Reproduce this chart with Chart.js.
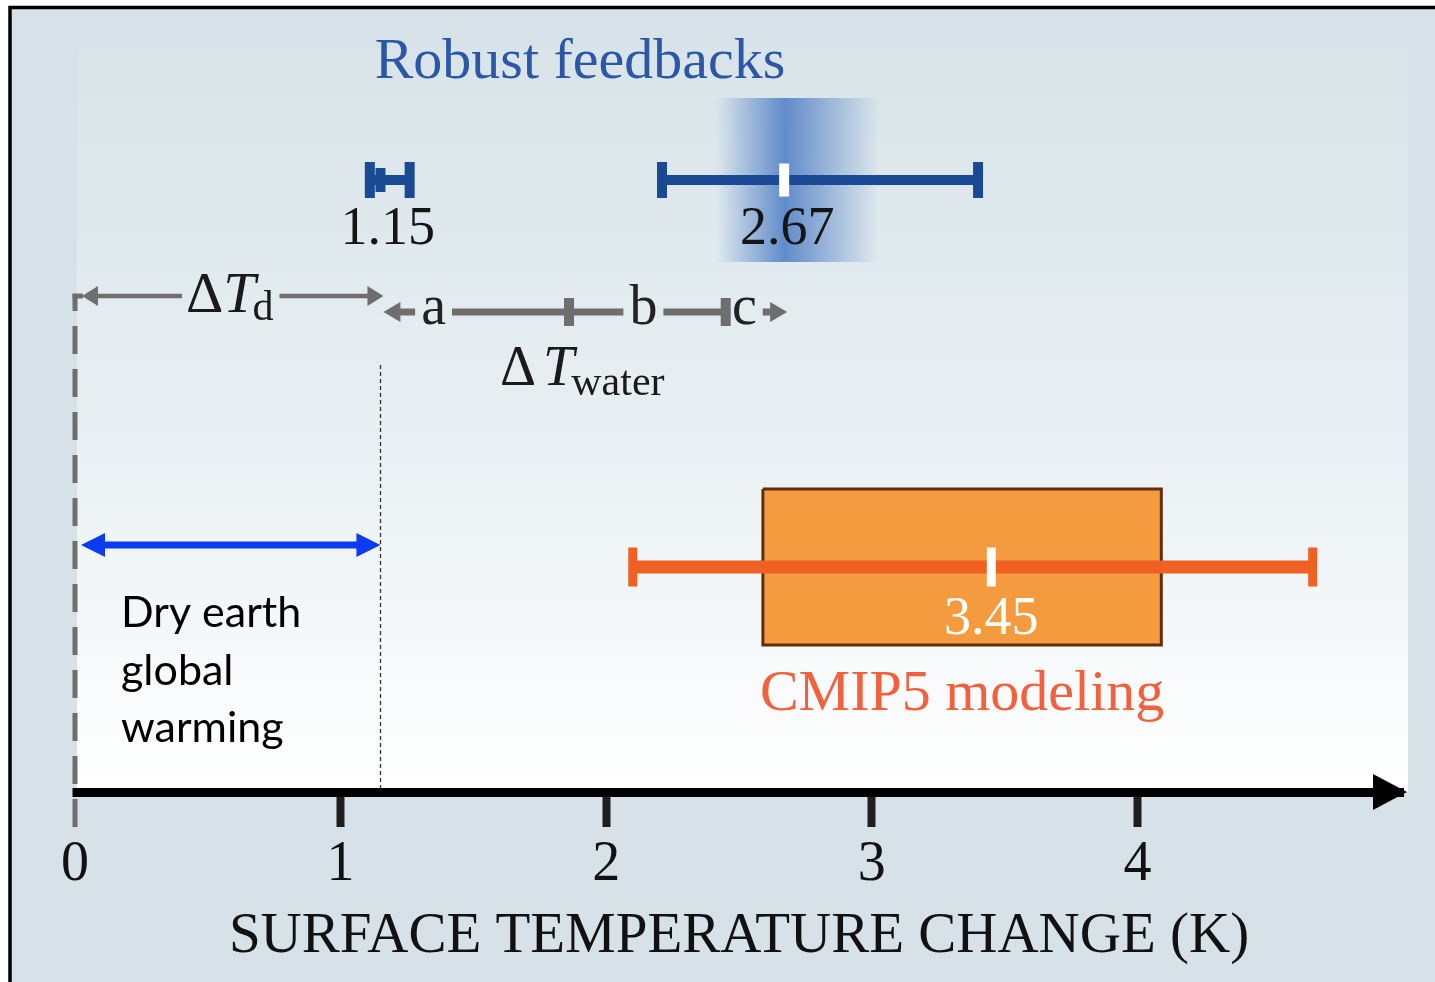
<!DOCTYPE html>
<html>
<head>
<meta charset="utf-8">
<script src="https://cdn.jsdelivr.net/npm/chart.js@4.4.0/dist/chart.umd.min.js"></script>
<style>
  html, body { margin: 0; padding: 0; background: #fff; }
  #wrap { width: 1435px; height: 982px; position: relative; }
</style>
</head>
<body>
<div id="wrap"><canvas id="chart"></canvas></div>
<script>
// values, x = surface temperature change (K)
const xTicks = [0, 1, 2, 3, 4];

const robustLabels = ['1.15', '2.67'];
const robustMid = [1.15, 2.67];
const robustLow = [1.11, 2.21];
const robustHigh = [1.26, 3.40];

const cmipLabels = ['3.45'];
const cmipMid = [3.45];
const cmipLow = [2.10];
const cmipHigh = [4.66];
const cmipBoxLow = [2.59];
const cmipBoxHigh = [4.09];

const dryRange = [0, 1.15];
const waterBreaks = [1.15, 1.86, 2.45, 2.67];
const waterNames = ['a', 'b', 'c'];
const waterNameAt = [1.35, 2.14, 2.52];

// layout (y axis runs 0..752, one unit per pixel above the x axis)
const ROW = { robust: 612, cmip: 225, boxTop: 303, boxBottom: 147 };
const BLUE = '#1b4a95';
const GRAY = '#6e6e6e';
const ORANGE = '#f06022';
const SERIF = '"Liberation Serif", "DejaVu Serif", serif';

const datasets = [];

robustMid.forEach((m, i) => {
  datasets.push({
    data: [{ x: m, y: ROW.robust }],
    pointStyle: 'line', pointRotation: 90,
    pointRadius: i === 0 ? 12 : 16.5, pointBorderWidth: 10,
    pointBorderColor: i === 0 ? BLUE : '#ffffff',
    order: 1
  });
  datasets.push({
    data: [{ x: robustLow[i], y: ROW.robust }, { x: robustHigh[i], y: ROW.robust }],
    showLine: true, borderColor: BLUE, borderWidth: 10, borderCapStyle: 'butt',
    pointStyle: 'line', pointRotation: 90, pointRadius: 18, pointBorderWidth: 10,
    pointBorderColor: BLUE,
    order: 2
  });
});

cmipMid.forEach((m, i) => {
  datasets.push({
    data: [{ x: m, y: ROW.cmip }],
    pointStyle: 'line', pointRotation: 90, pointRadius: 19.5, pointBorderWidth: 9,
    pointBorderColor: '#ffffff',
    order: 1
  });
  datasets.push({
    data: [{ x: cmipLow[i], y: ROW.cmip }, { x: cmipHigh[i], y: ROW.cmip }],
    showLine: true, borderColor: ORANGE, borderWidth: 13, borderCapStyle: 'butt',
    pointStyle: 'line', pointRotation: 90, pointRadius: 19.5, pointBorderWidth: 9,
    pointBorderColor: ORANGE,
    order: 3
  });
  // box outline
  datasets.push({
    data: [
      { x: cmipBoxLow[i], y: ROW.boxTop }, { x: cmipBoxHigh[i], y: ROW.boxTop },
      { x: cmipBoxHigh[i], y: ROW.boxBottom }, { x: cmipBoxLow[i], y: ROW.boxBottom },
      { x: cmipBoxLow[i], y: ROW.boxTop }
    ],
    showLine: true, borderColor: '#5e2f0c', borderWidth: 3, pointRadius: 0,
    order: 9
  });
  // box fill
  datasets.push({
    data: [{ x: cmipBoxLow[i], y: ROW.boxTop }, { x: cmipBoxHigh[i], y: ROW.boxTop }],
    showLine: true, borderWidth: 0, pointRadius: 0,
    fill: { value: ROW.boxBottom }, backgroundColor: '#f49b40',
    order: 10
  });
});

function head(ctx, tipX, y, dir, len, half) {
  ctx.beginPath();
  ctx.moveTo(tipX, y);
  ctx.lineTo(tipX - dir * len, y - half);
  ctx.lineTo(tipX - dir * len, y + half);
  ctx.closePath();
  ctx.fill();
}

function hline(ctx, xa, xb, y) {
  ctx.beginPath(); ctx.moveTo(xa, y); ctx.lineTo(xb, y); ctx.stroke();
}

// ΔT with subscript, centred on cx
function deltaT(ctx, cx, base, big, sub, subText, gapAfterDelta, subDrop) {
  ctx.font = big + 'px ' + SERIF;
  const wD = ctx.measureText('\u0394').width;
  ctx.font = 'italic ' + big + 'px ' + SERIF;
  const wT = ctx.measureText('T').width;
  ctx.font = sub + 'px ' + SERIF;
  const wS = ctx.measureText(subText).width;
  const total = wD + gapAfterDelta + wT - 3 + wS;
  let xx = cx - total / 2;
  ctx.textAlign = 'left';
  ctx.font = big + 'px ' + SERIF;
  ctx.fillText('\u0394', xx, base);
  xx += wD + gapAfterDelta;
  ctx.font = 'italic ' + big + 'px ' + SERIF;
  ctx.fillText('T', xx, base);
  xx += wT - 3;
  ctx.font = sub + 'px ' + SERIF;
  ctx.fillText(subText, xx, base + subDrop);
  return [cx - total / 2, cx + total / 2];
}

const backdrop = {
  id: 'backdrop',
  beforeDraw(chart) {
    const { ctx, chartArea: a, scales: { x } } = chart;
    ctx.save();
    ctx.fillStyle = '#ffffff';
    ctx.fillRect(0, 0, chart.width, chart.height);
    ctx.fillStyle = '#d6e2e7';
    ctx.fillRect(10, 7, chart.width, chart.height);
    ctx.strokeStyle = '#000';
    ctx.lineWidth = 3.5;
    ctx.strokeRect(10, 7.5, chart.width + 50, chart.height + 50);
    const g = ctx.createLinearGradient(0, 48, 0, a.bottom);
    g.addColorStop(0, '#d8e4e9');
    g.addColorStop(0.5, '#e8eff2');
    g.addColorStop(1, '#ffffff');
    ctx.fillStyle = g;
    const left = x.getPixelForValue(0) + 2;
    ctx.fillRect(left, 48, a.right + 5 - left, a.bottom - 48);
    ctx.restore();
  },
  beforeDatasetsDraw(chart) {
    const { ctx, scales: { x } } = chart;
    const cx = x.getPixelForValue(robustMid[1]);
    ctx.save();
    const g = ctx.createLinearGradient(cx - 68, 0, cx + 95, 0);
    g.addColorStop(0, 'rgba(90,134,200,0)');
    g.addColorStop(0.42, 'rgba(90,134,200,0.95)');
    g.addColorStop(1, 'rgba(90,134,200,0)');
    ctx.fillStyle = g;
    ctx.fillRect(cx - 68, 98, 163, 164);
    ctx.restore();
  }
};

const notes = {
  id: 'notes',
  afterDatasetsDraw(chart) {
    const { ctx, chartArea: a, scales: { x } } = chart;
    const px = v => x.getPixelForValue(v);
    const x0 = px(dryRange[0]), x1 = px(dryRange[1]);
    ctx.save();

    // keep the axis line starting at zero
    ctx.fillStyle = '#d6e2e7';
    ctx.fillRect(x0 - 12, a.bottom - 6, 9.5, 12);

    // arrow head of the x axis
    ctx.fillStyle = '#000';
    head(ctx, a.right + 4, a.bottom, 1, 34, 18);

    // dashed line at zero
    ctx.strokeStyle = GRAY; ctx.lineWidth = 5;
    ctx.setLineDash([28, 15]); ctx.lineDashOffset = 11;
    ctx.beginPath(); ctx.moveTo(x0, 294); ctx.lineTo(x0, 828); ctx.stroke();
    ctx.setLineDash([]); ctx.lineDashOffset = 0;
    hline(ctx, x0 - 2.5, x0 + 8, 296);

    // dotted line at dry earth limit
    ctx.strokeStyle = '#333'; ctx.lineWidth = 1.3; ctx.setLineDash([4, 3]);
    ctx.beginPath(); ctx.moveTo(Math.round(x1) + 0.5, 365); ctx.lineTo(Math.round(x1) + 0.5, 790); ctx.stroke();
    ctx.setLineDash([]);

    ctx.textBaseline = 'alphabetic';
    ctx.fillStyle = '#1a1a1a';

    // ΔTd arrow
    const [dL, dR] = deltaT(ctx, (x0 + x1) / 2 + 2, 312, 58, 42, 'd', 0, 8);
    ctx.strokeStyle = GRAY; ctx.fillStyle = GRAY; ctx.lineWidth = 4.5;
    hline(ctx, x0 + 20, dL - 4, 296);
    hline(ctx, dR + 6, x1 - 12, 296);
    head(ctx, x0 + 7, 296, -1, 16, 10);
    head(ctx, x1 + 3, 296, 1, 16, 10);

    // ΔTwater a-b-c line
    const yw = 312;
    ctx.font = '56px ' + SERIF;
    const boxes = waterNames.map((t, i) => {
      const w = ctx.measureText(t).width;
      const c = px(waterNameAt[i]);
      return [c - w / 2, c + w / 2];
    });
    ctx.lineWidth = 7;
    const gp = 6;
    hline(ctx, px(waterBreaks[0]) + 14, boxes[0][0] - gp, yw);
    hline(ctx, boxes[0][1] + gp, boxes[1][0] - gp, yw);
    hline(ctx, boxes[1][1] + gp, boxes[2][0] - gp, yw);
    hline(ctx, boxes[2][1] + gp, px(waterBreaks[3]) - 10, yw);
    head(ctx, px(waterBreaks[0]) + 3, yw, -1, 17, 10);
    head(ctx, px(waterBreaks[3]) + 3, yw, 1, 17, 10);
    [waterBreaks[1], waterBreaks[2]].forEach(b => {
      ctx.fillRect(px(b) - 5, yw - 14, 10, 28);
    });
    ctx.fillStyle = '#222';
    ctx.textAlign = 'center';
    waterNames.forEach((t, i) => ctx.fillText(t, px(waterNameAt[i]), 324));

    // ΔTwater label
    ctx.fillStyle = '#1a1a1a';
    deltaT(ctx, px((waterBreaks[0] + waterBreaks[3]) / 2), 385, 56, 42, 'water', 7, 10);

    // title
    ctx.textAlign = 'center';
    ctx.fillStyle = '#2c57a7';
    ctx.font = '58px ' + SERIF;
    ctx.fillText('Robust feedbacks', 580, 78);

    // robust values
    ctx.fillStyle = '#151515';
    ctx.font = '54px ' + SERIF;
    robustLabels.forEach((t, i) => {
      const at = i === 0 ? (robustLow[i] + robustHigh[i]) / 2 : robustMid[i];
      ctx.fillText(t, px(at) + (i === 0 ? -2 : 3), 244);
    });

    // CMIP5
    ctx.fillStyle = '#ffffff';
    cmipLabels.forEach((t, i) => ctx.fillText(t, px(cmipMid[i]), 634));
    ctx.fillStyle = '#f2603c';
    ctx.font = '58px ' + SERIF;
    ctx.fillText('CMIP5 modeling', px((cmipBoxLow[0] + cmipBoxHigh[0]) / 2), 710);

    // dry earth arrow + text
    ctx.strokeStyle = '#0b3cf4'; ctx.fillStyle = '#0b3cf4'; ctx.lineWidth = 7;
    hline(ctx, x0 + 20, x1 - 20, 545);
    head(ctx, x0 + 6, 545, -1, 24, 12);
    head(ctx, x1, 545, 1, 24, 12);
    ctx.fillStyle = '#000';
    ctx.textAlign = 'left';
    ctx.font = '43px Lato, "Open Sans", sans-serif';
    ['Dry earth', 'global', 'warming'].forEach((t, i) => ctx.fillText(t, x0 + 46, 627 + i * 57.5));

    ctx.restore();
  }
};

new Chart(document.getElementById('chart'), {
  type: 'scatter',
  data: { datasets: datasets },
  options: {
    responsive: true,
    maintainAspectRatio: false,
    animation: false,
    events: [],
    layout: { padding: { left: 75, right: 32, top: 40, bottom: 0 } },
    plugins: { legend: { display: false }, tooltip: { enabled: false } },
    scales: {
      x: {
        type: 'linear', min: 0, max: 5,
        afterBuildTicks: s => { s.ticks = xTicks.map(v => ({ value: v })); },
        afterFit: s => { s.height = 190; },
        grid: {
          drawOnChartArea: false, drawTicks: true, tickLength: 35, tickWidth: 8,
          tickColor: c => (c.tick && c.tick.value === 0) ? 'rgba(0,0,0,0)' : '#1e1e1e'
        },
        border: { display: true, color: '#000', width: 9 },
        ticks: {
          font: { family: SERIF, size: 56, lineHeight: 1 }, color: '#111',
          padding: 10, maxRotation: 0, autoSkip: false
        },
        title: {
          display: true, text: 'SURFACE TEMPERATURE CHANGE (K)',
          font: { family: SERIF, size: 57, lineHeight: 1 }, color: '#111',
          padding: { top: 0, bottom: 16 }
        }
      },
      y: { type: 'linear', min: 0, max: 752, display: false }
    }
  },
  plugins: [backdrop, notes]
});
</script>
</body>
</html>
